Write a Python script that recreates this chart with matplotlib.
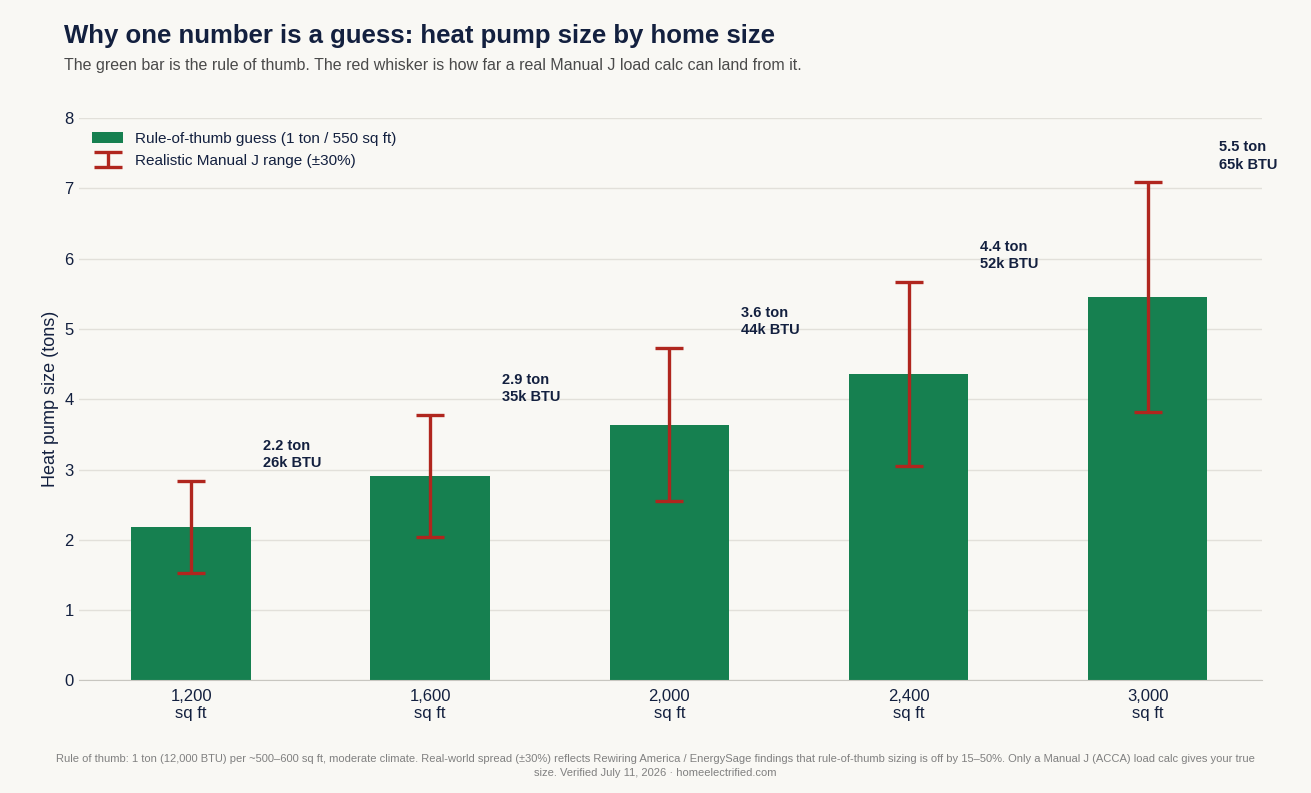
import matplotlib
matplotlib.use("Agg")
import matplotlib.pyplot as plt
import numpy as np

categories = ["1,200\nsq ft", "1,600\nsq ft", "2,000\nsq ft", "2,400\nsq ft", "3,000\nsq ft"]
tons = [2.18, 2.91, 3.64, 4.36, 5.45]
low = [1.53, 2.04, 2.55, 3.05, 3.82]
high = [2.84, 3.78, 4.73, 5.67, 7.09]
labels = ["2.2 ton\n26k BTU", "2.9 ton\n35k BTU", "3.6 ton\n44k BTU", "4.4 ton\n52k BTU", "5.5 ton\n65k BTU"]

bg = "#f9f8f4"
navy = "#13203f"
plt.rcParams['font.family'] = ['Liberation Sans', 'DejaVu Sans']
fig = plt.figure(figsize=(13.11, 7.93), dpi=100, facecolor=bg)
ax = fig.add_axes([0.06, 0.142, 0.903, 0.709], facecolor=bg)
x = np.arange(len(categories))
ax.bar(x, tons, width=0.5, color="#168050", label="Rule-of-thumb guess (1 ton / 550 sq ft)", zorder=2)
t = np.array(tons)
yerr = [t - np.array(low), np.array(high) - t]
ax.errorbar(x, tons, yerr=yerr, fmt="none", ecolor="#b0261e", elinewidth=2.4, capsize=10, capthick=2.4,
            label="Realistic Manual J range (±30%)", zorder=3)
for i in range(len(x)):
    ax.text(x[i] + 0.3, high[i] + 0.15, labels[i], ha="left", va="bottom", fontsize=10.5,
            fontweight="bold", color=navy, linespacing=1.3)
ax.set_xlim(-0.47, 4.48)
ax.set_ylim(0, 8)
ax.set_xticks(x)
ax.set_xticklabels(categories, fontsize=12, color=navy)
ax.tick_params(axis="y", labelsize=12, colors=navy, length=0)
ax.tick_params(axis="x", length=0, pad=6)
ax.set_ylabel("Heat pump size (tons)", fontsize=13, color=navy)
ax.grid(axis="y", color="#e2e0da", linewidth=1, zorder=0)
for s in ["top", "right", "left"]:
    ax.spines[s].set_visible(False)
ax.spines["bottom"].set_color("#c8c6c0")
leg = ax.legend(loc="upper left", frameon=False, fontsize=11, labelcolor=navy, bbox_to_anchor=(0.0, 1.0))
fig.text(0.049, 0.955, "Why one number is a guess: heat pump size by home size", fontsize=18.5,
         fontweight="bold", color=navy, va="center")
fig.text(0.049, 0.918, "The green bar is the rule of thumb. The red whisker is how far a real Manual J load calc can land from it.",
         fontsize=11.5, color="#4a4a4a", va="center")
fig.text(0.5, 0.034, "Rule of thumb: 1 ton (12,000 BTU) per ~500–600 sq ft, moderate climate. Real-world spread (±30%) reflects Rewiring America / EnergySage findings that rule-of-thumb sizing is off by 15–50%. Only a Manual J (ACCA) load calc gives your true\nsize. Verified July 11, 2026 · homeelectrified.com",
         fontsize=8, color="#808080", ha="center", va="center", linespacing=1.4)
fig.savefig("out.png", dpi=100, facecolor=bg)
